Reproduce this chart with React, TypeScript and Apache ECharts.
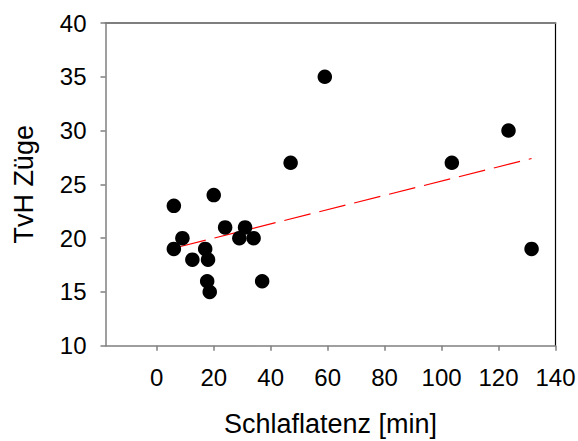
import React, { useEffect, useRef } from "react";
import * as echarts from "echarts";

const xValues = [6, 6, 9, 12.5, 17, 18, 17.7, 18.6, 20, 24, 29, 31, 34, 37, 47, 59, 103.6, 123.5, 131.6];
const yValues = [23, 19, 20, 18, 19, 18, 16, 15, 24, 21, 20, 21, 20, 16, 27, 35, 27, 30, 19];
const trendX = [8, 131.6];
const trendY = [19.2, 27.4];
const xTicks = [0, 20, 40, 60, 80, 100, 120, 140];
const xTitle = "Schlaflatenz [min]";
const yTitle = "TvH Züge";

const FONT = "'Liberation Sans', Arial, sans-serif";

export default function App() {
  const ref = useRef<HTMLDivElement>(null);
  useEffect(() => {
    if (!ref.current) return;
    const chart = echarts.init(ref.current, undefined, { renderer: "svg" });
    const points = xValues.map((x, i) => [x, yValues[i]]);
    const trend = trendX.map((x, i) => [x, trendY[i]]);
    chart.setOption({
      animation: false,
      backgroundColor: "#ffffff",
      grid: { left: 105.5, right: 22.5, top: 23, bottom: 95.3, containLabel: false, outerBoundsMode: "none" },
      xAxis: [
        {
          type: "value",
          min: -18,
          max: 140,
          position: "bottom",
          name: xTitle,
          nameLocation: "middle",
          nameGap: 65,
          nameTextStyle: { fontSize: 27, color: "#000", fontFamily: FONT },
          axisLine: { show: true, onZero: false, lineStyle: { color: "#7f7f7f", width: 1.5 } },
          axisTick: { show: true, inside: false, length: 5, customValues: xTicks, lineStyle: { color: "#7f7f7f", width: 1.5 } },
          axisLabel: { show: true, customValues: xTicks, margin: 20, fontSize: 24, color: "#000", fontFamily: FONT },
          splitLine: { show: false },
        },
        {
          type: "value",
          min: -18,
          max: 140,
          position: "top",
          axisLine: { show: true, onZero: false, lineStyle: { color: "#7f7f7f", width: 2 } },
          axisTick: { show: false },
          axisLabel: { show: false },
          splitLine: { show: false },
        },
      ],
      yAxis: [
        {
          type: "value",
          min: 10,
          max: 40,
          interval: 5,
          position: "left",
          name: yTitle,
          nameLocation: "middle",
          nameGap: 68,
          nameTextStyle: { fontSize: 27, color: "#000", fontFamily: FONT },
          axisLine: { show: true, onZero: false, lineStyle: { color: "#7f7f7f", width: 1.5 } },
          axisTick: { show: true, inside: false, length: 5, lineStyle: { color: "#7f7f7f", width: 1.5 } },
          axisLabel: { margin: 19, fontSize: 24, color: "#000", fontFamily: FONT },
          splitLine: { show: false },
        },
        {
          type: "value",
          min: 10,
          max: 40,
          interval: 5,
          position: "right",
          axisLine: { show: true, onZero: false, lineStyle: { color: "#000", width: 1.2 } },
          axisTick: { show: false },
          axisLabel: { show: false },
          splitLine: { show: false },
        },
      ],
      series: [
        {
          type: "line",
          data: trend,
          symbol: "none",
          z: 1,
          lineStyle: { color: "#ff0000", width: 1.2, type: [27, 9] },
        },
        {
          type: "scatter",
          data: points,
          symbol: "circle",
          symbolSize: 14.5,
          z: 2,
          itemStyle: { color: "#000000", opacity: 1 },
          emphasis: { disabled: true },
        },
      ],
    });
    return () => chart.dispose();
  }, []);
  return <div ref={ref} style={{ width: 578, height: 441, position: "absolute", left: 0, top: 0 }} />;
}
